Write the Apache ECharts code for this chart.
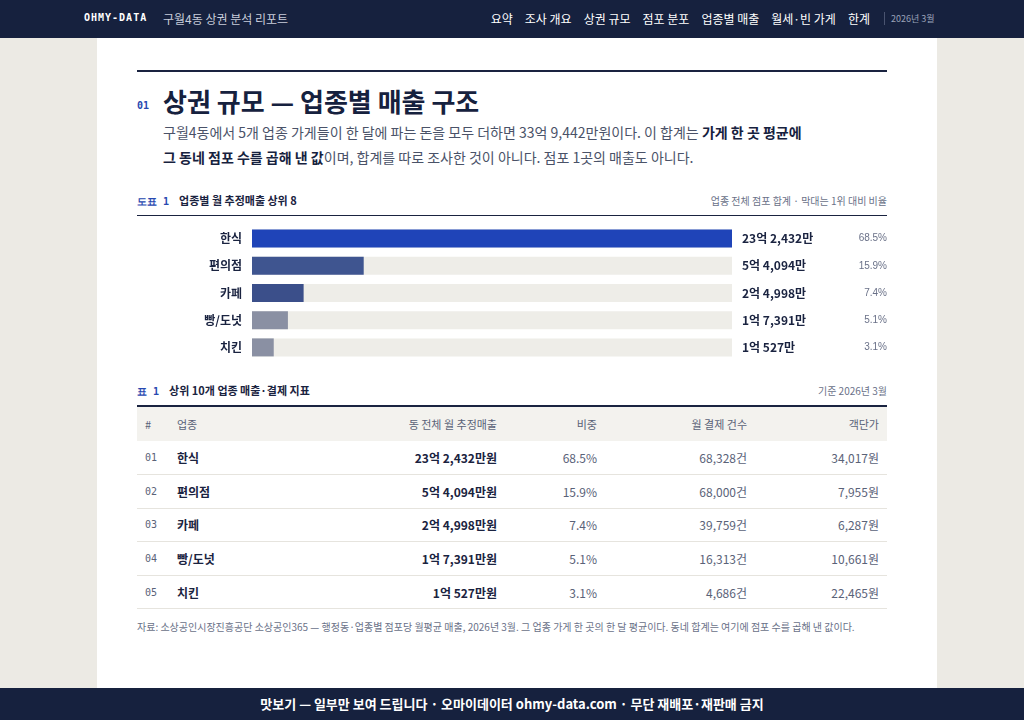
<!DOCTYPE html>
<html><head><meta charset="utf-8">
<script src="https://cdn.jsdelivr.net/npm/echarts@6/dist/echarts.min.js"></script>
<style>
*{margin:0;padding:0;box-sizing:border-box}
body{width:1024px;height:720px;overflow:hidden;background:#eceae4;font-family:"Noto Sans CJK KR","Noto Sans",sans-serif;color:#1a2340;position:relative}
#top{position:absolute;left:0;top:0;width:1024px;height:38px;background:#16213e;color:#fff;font-size:12px}
#top .b{position:absolute;left:84px;top:12px;font-family:"DejaVu Sans Mono";font-weight:bold;font-size:10px;letter-spacing:1px}
#top .s{position:absolute;left:163px;top:10px;color:#c8cddb}
#top .nav{position:absolute;right:154px;top:10px;word-spacing:0}
#top .nav span{margin-left:12px}
#top .d{position:absolute;left:884px;top:12px;font-size:9px;color:#9aa2b8;border-left:1px solid #4a5470;padding-left:6px}
#card{position:absolute;left:97px;top:38px;width:840px;height:650px;background:#fff}
.abs{position:absolute}
#foot{position:absolute;left:0;top:688px;width:1024px;height:32px;background:#16213e;color:#fff;font-size:13px;font-weight:bold;text-align:center;line-height:32px}
table{position:absolute;left:137px;top:405px;width:750px;border-collapse:collapse;font-size:12px}
th{background:#f3f2ee;color:#5a6278;font-weight:normal;height:35px;font-size:11px;border-top:2px solid #1a2340}
td{height:33.6px;border-bottom:1px solid #e6e4de;color:#5a6278}
td.b{color:#1a2340;font-weight:bold}
.r{text-align:right}
</style></head><body>
<div id="top"><div class="b">OHMY-DATA</div><div class="s">구월4동 상권 분석 리포트</div>
<div class="nav"><span>요약</span><span>조사 개요</span><span>상권 규모</span><span>점포 분포</span><span>업종별 매출</span><span>월세·빈 가게</span><span>한계</span></div>
<div class="d">2026년 3월</div></div>
<div id="card"></div>
<div class="abs" style="left:137px;top:70px;width:750px;border-top:2px solid #1a2340"></div>
<div class="abs" style="left:137px;top:100px;font-size:10px;color:#2748b0;font-family:'DejaVu Sans Mono';font-weight:bold">01</div>
<div class="abs" style="left:163px;top:82px;font-size:26px;font-weight:bold;color:#16213e">상권 규모 — 업종별 매출 구조</div>
<div class="abs" style="left:163px;top:120px;width:643px;font-size:14px;line-height:25px;color:#4a5268">구월4동에서 5개 업종 가게들이 한 달에 파는 돈을 모두 더하면 33억 9,442만원이다. 이 합계는 <b style="color:#16213e">가게 한 곳 평균에 그 동네 점포 수를 곱해 낸 값</b>이며, 합계를 따로 조사한 것이 아니다. 점포 1곳의 매출도 아니다.</div>
<div class="abs" style="left:137px;top:192px;font-size:11px;font-weight:bold;color:#1a2340"><span style="color:#2748b0;font-family:'DejaVu Sans Mono';font-size:10px;margin-right:10px">도표 1</span>업종별 월 추정매출 상위 8</div>
<div class="abs" style="right:137px;top:193px;font-size:10px;color:#6a7188">업종 전체 점포 합계 · 막대는 1위 대비 비율</div>
<div class="abs" style="left:137px;top:215px;width:750px;border-top:1px solid #1a2340"></div>
<div id="chart" class="abs" style="left:137px;top:225px;width:750px;height:136px"></div>
<div class="abs" style="left:137px;top:382px;font-size:11px;font-weight:bold;color:#1a2340"><span style="color:#2748b0;font-family:'DejaVu Sans Mono';font-size:10px;margin-right:10px">표 1</span>상위 10개 업종 매출·결제 지표</div>
<div class="abs" style="right:137px;top:383px;font-size:10px;color:#6a7188">기준 2026년 3월</div>
<table id="tbl"><thead><tr>
<th style="width:30px;text-align:left;padding-left:8px">#</th><th style="text-align:left;padding-left:10px">업종</th><th class="r" style="padding-right:10px">동 전체 월 추정매출</th><th class="r" style="width:100px;padding-right:10px">비중</th><th class="r" style="width:150px;padding-right:10px">월 결제 건수</th><th class="r" style="width:130px;padding-right:8px">객단가</th></tr></thead><tbody></tbody></table>
<div class="abs" style="left:137px;top:618px;width:745px;font-size:10px;line-height:17px;color:#6a7188">자료: 소상공인시장진흥공단 소상공인365 — 행정동·업종별 점포당 월평균 매출, 2026년 3월. 그 업종 가게 한 곳의 한 달 평균이다. 동네 합계는 여기에 점포 수를 곱해 낸 값이다.</div>
<div id="foot">맛보기 — 일부만 보여 드립니다 · 오마이데이터 ohmy-data.com · 무단 재배포·재판매 금지</div>
<script>
const categories=['한식','편의점','카페','빵/도넛','치킨'];
const sales=[232432,54094,24998,17391,10527];
const salesText=['23억 2,432만','5억 4,094만','2억 4,998만','1억 7,391만','1억 527만'];
const shares=['68.5%','15.9%','7.4%','5.1%','3.1%'];
const txCount=['68,328건','68,000건','39,759건','16,313건','4,686건'];
const unitPrice=['34,017원','7,955원','6,287원','10,661원','22,465원'];
const colors=['#1f44b8','#3f5590','#3b4f8a','#8a90a3','#8a90a3'];
const maxV=sales[0];
const ch=echarts.init(document.getElementById('chart'));
ch.setOption({animation:false,
grid:{left:115,right:155,top:0,bottom:0},
xAxis:{type:'value',min:0,max:maxV,show:false},
yAxis:{type:'category',data:categories,inverse:true,axisLine:{show:false},axisTick:{show:false},
 axisLabel:{fontSize:12,fontWeight:'bold',color:'#1a2340',margin:10,fontFamily:'Noto Sans CJK KR'}},
series:[
{type:'bar',data:sales.map(()=>maxV),barWidth:18,itemStyle:{color:'#eeede8'},silent:true,
 label:{show:true,position:'right',distance:10,formatter:p=>'{a|'+salesText[p.dataIndex]+'}{p|'+shares[p.dataIndex]+'}',
 rich:{a:{width:110,fontSize:12,fontWeight:'bold',color:'#1a2340',fontFamily:'Noto Sans CJK KR'},p:{width:35,align:'right',fontSize:10,color:'#6a7188'}}}},
{type:'bar',data:sales.map((v,i)=>({value:v,itemStyle:{color:colors[i]}})),barWidth:18,barGap:'-100%'}
]});
const tb=document.querySelector('#tbl tbody');
categories.forEach((c,i)=>{const tr=document.createElement('tr');
tr.innerHTML=`<td style="padding-left:8px;font-size:10px;font-family:'DejaVu Sans Mono'">0${i+1}</td><td class="b" style="padding-left:10px">${c}</td><td class="b r" style="padding-right:10px">${salesText[i]}원</td><td class="r" style="padding-right:10px">${shares[i]}</td><td class="r" style="padding-right:10px">${txCount[i]}</td><td class="r" style="padding-right:8px">${unitPrice[i]}</td>`;tb.appendChild(tr);});
</script></body></html>
